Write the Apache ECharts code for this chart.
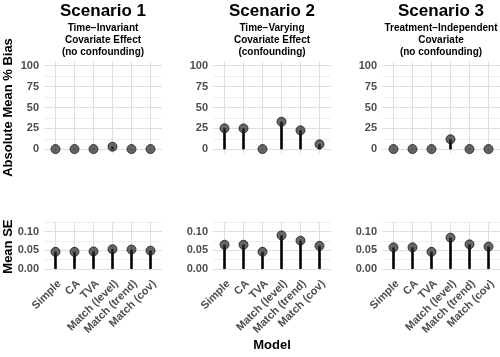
<!DOCTYPE html>
<html><head><meta charset="utf-8">
<script src="https://cdn.jsdelivr.net/npm/echarts@6/dist/echarts.min.js"></script>
<style>html,body{margin:0;padding:0;background:#fff}#c{width:500px;height:357px}</style>
</head><body><div id="c"></div>
<script>
const models = ['Simple', 'CA', 'TVA', 'Match (level)', 'Match (trend)', 'Match (cov)'];
const scenarioTitles = ['Scenario 1', 'Scenario 2', 'Scenario 3'];
const scenarioSubtitles = [
  'Time\u2212Invariant\nCovariate Effect\n(no confounding)',
  'Time\u2212Varying\nCovariate Effect\n(confounding)',
  'Treatment\u2212Independent\nCovariate\n(no confounding)'
];
const biasS1 = [0.3, 0.3, 0.3, 3.1, 0.3, 0.3];
const biasS2 = [25.1, 25.0, 0.3, 33.0, 22.7, 6.0];
const biasS3 = [0.3, 0.3, 0.3, 12.0, 0.3, 0.3];
const seS1 = [0.046, 0.046, 0.047, 0.053, 0.052, 0.049];
const seS2 = [0.065, 0.065, 0.046, 0.090, 0.076, 0.062];
const seS3 = [0.058, 0.058, 0.046, 0.084, 0.066, 0.060];
const biasTickStep = 25;   // ticks 0,25,50,75,100
const seTickStep = 0.05;   // ticks 0.00,0.05,0.10

const FONT = '"Liberation Sans", Arial, sans-serif';
const panelLefts = [44.1, 213.1, 382.1];
const panelW = 117.8;
const XMIN = 0.4, XMAX = 6.6;
const rows = [
  {top: 61.5, h: 92, pmin: -5, pmax: 105, dmax: 100, step: biasTickStep, data: [biasS1, biasS2, biasS3], fmt: v => String(v), labels: false},
  {top: 222, h: 49.2, pmin: -0.006, pmax: 0.126, dmax: 0.125, step: seTickStep, data: [seS1, seS2, seS3], fmt: v => v.toFixed(2), labels: true}
];

const grid = [], xAxis = [], yAxis = [], series = [];
let gi = 0;
rows.forEach((r, ri) => {
  panelLefts.forEach((left, ci) => {
    const span = r.pmax - r.pmin;
    const dTop = r.top + (r.pmax - r.dmax) / span * r.h;
    const dH = r.dmax / span * r.h;
    // grid P: full panel (vertical gridlines + category labels)
    const gP = gi++;
    grid.push({left: left, width: panelW, top: r.top, height: r.h});
    const xP = xAxis.length;
    xAxis.push({
      gridIndex: gP, type: 'value', min: XMIN, max: XMAX, splitNumber: 6,
      axisLine: {show: false}, axisTick: {show: false},
      splitLine: {show: false},
      axisLabel: {
        show: r.labels, showMinLabel: false, showMaxLabel: false,
        rotate: 45, align: 'right', verticalAlign: 'top', margin: 7,
        fontFamily: FONT, fontSize: 11, fontWeight: 'bold', color: '#4d4d4d',
        formatter: v => (Math.abs(v - Math.round(v)) < 1e-6 && v >= 1 && v <= models.length) ? models[Math.round(v) - 1] : ''
      }
    });
    const yP = yAxis.length;
    yAxis.push({
      gridIndex: gP, type: 'value', min: r.pmin, max: r.pmax,
      axisLine: {show: false}, axisTick: {show: false}, axisLabel: {show: false}, splitLine: {show: false}
    });
    // vertical gridlines: 1px bars spanning the whole panel at each category position
    series.push({
      type: 'bar', xAxisIndex: xP, yAxisIndex: yP, silent: true, z: 0,
      data: models.map((m, k) => [k + 1, r.pmax]),
      barWidth: 1, itemStyle: {color: '#dedede'}
    });
    series.push({
      type: 'bar', xAxisIndex: xP, yAxisIndex: yP, silent: true, z: 0,
      data: models.map((m, k) => [k + 1, r.pmin]),
      barWidth: 1, barGap: '-100%', itemStyle: {color: '#dedede'}
    });
    // grid D: data range, full panel width
    const gD = gi++;
    grid.push({left: left, width: panelW, top: dTop, height: dH});
    const xD = xAxis.length;
    xAxis.push({gridIndex: gD, type: 'value', min: XMIN, max: XMAX, show: false});
    const yD = yAxis.length;
    yAxis.push({
      gridIndex: gD, type: 'value', min: 0, max: r.dmax, interval: r.step, z: 1,
      axisLine: {show: false}, axisTick: {show: false},
      splitLine: {show: true, showMaxLine: ri === 0, lineStyle: {color: '#dedede', width: 1}},
      axisLabel: {
        showMaxLabel: ri === 0, margin: 5,
        fontFamily: FONT, fontSize: 11, fontWeight: 'bold', color: '#4d4d4d',
        formatter: r.fmt
      }
    });
    yAxis.push({
      gridIndex: gD, type: 'value', min: 0, max: r.dmax, interval: r.step / 2, z: 0, position: 'left',
      axisLine: {show: false}, axisTick: {show: false}, axisLabel: {show: false},
      splitLine: {show: true, lineStyle: {color: '#efefef', width: 1}}
    });
    const pts = r.data[ci].map((v, k) => [k + 1, v]);
    series.push({
      type: 'bar', xAxisIndex: xD, yAxisIndex: yD, data: pts,
      barWidth: 2.6, itemStyle: {color: '#000'}, silent: true, z: 2
    });
    series.push({
      type: 'scatter', xAxisIndex: xD, yAxisIndex: yD, data: pts,
      symbolSize: 9, itemStyle: {color: 'rgba(38,38,38,0.88)', borderColor: '#1a1a1a', borderWidth: 1}, silent: true, z: 3
    });
  });
});

const graphic = [];
panelLefts.forEach((left, ci) => {
  const cx = left + panelW / 2;
  graphic.push({type: 'text', x: cx, y: 11, style: {text: scenarioTitles[ci], font: 'bold 17px ' + FONT, fill: '#000', textAlign: 'center', textVerticalAlign: 'middle'}});
  graphic.push({type: 'text', x: cx, y: 40, style: {text: scenarioSubtitles[ci], font: 'bold 10px ' + FONT, lineHeight: 12, fill: '#000', textAlign: 'center', textVerticalAlign: 'middle'}});
});
graphic.push({type: 'text', x: 8, y: 107.5, rotation: Math.PI / 2, style: {text: 'Absolute Mean % Bias', font: 'bold 13px ' + FONT, fill: '#000', textAlign: 'center', textVerticalAlign: 'middle'}});
graphic.push({type: 'text', x: 8, y: 246.6, rotation: Math.PI / 2, style: {text: 'Mean SE', font: 'bold 13px ' + FONT, fill: '#000', textAlign: 'center', textVerticalAlign: 'middle'}});
graphic.push({type: 'text', x: 272, y: 345, style: {text: 'Model', font: 'bold 13px ' + FONT, fill: '#000', textAlign: 'center', textVerticalAlign: 'middle'}});

const chart = echarts.init(document.getElementById('c'), null, {renderer: 'canvas'});
chart.setOption({animation: false, backgroundColor: '#fff', grid, xAxis, yAxis, series, graphic});
</script></body></html>
